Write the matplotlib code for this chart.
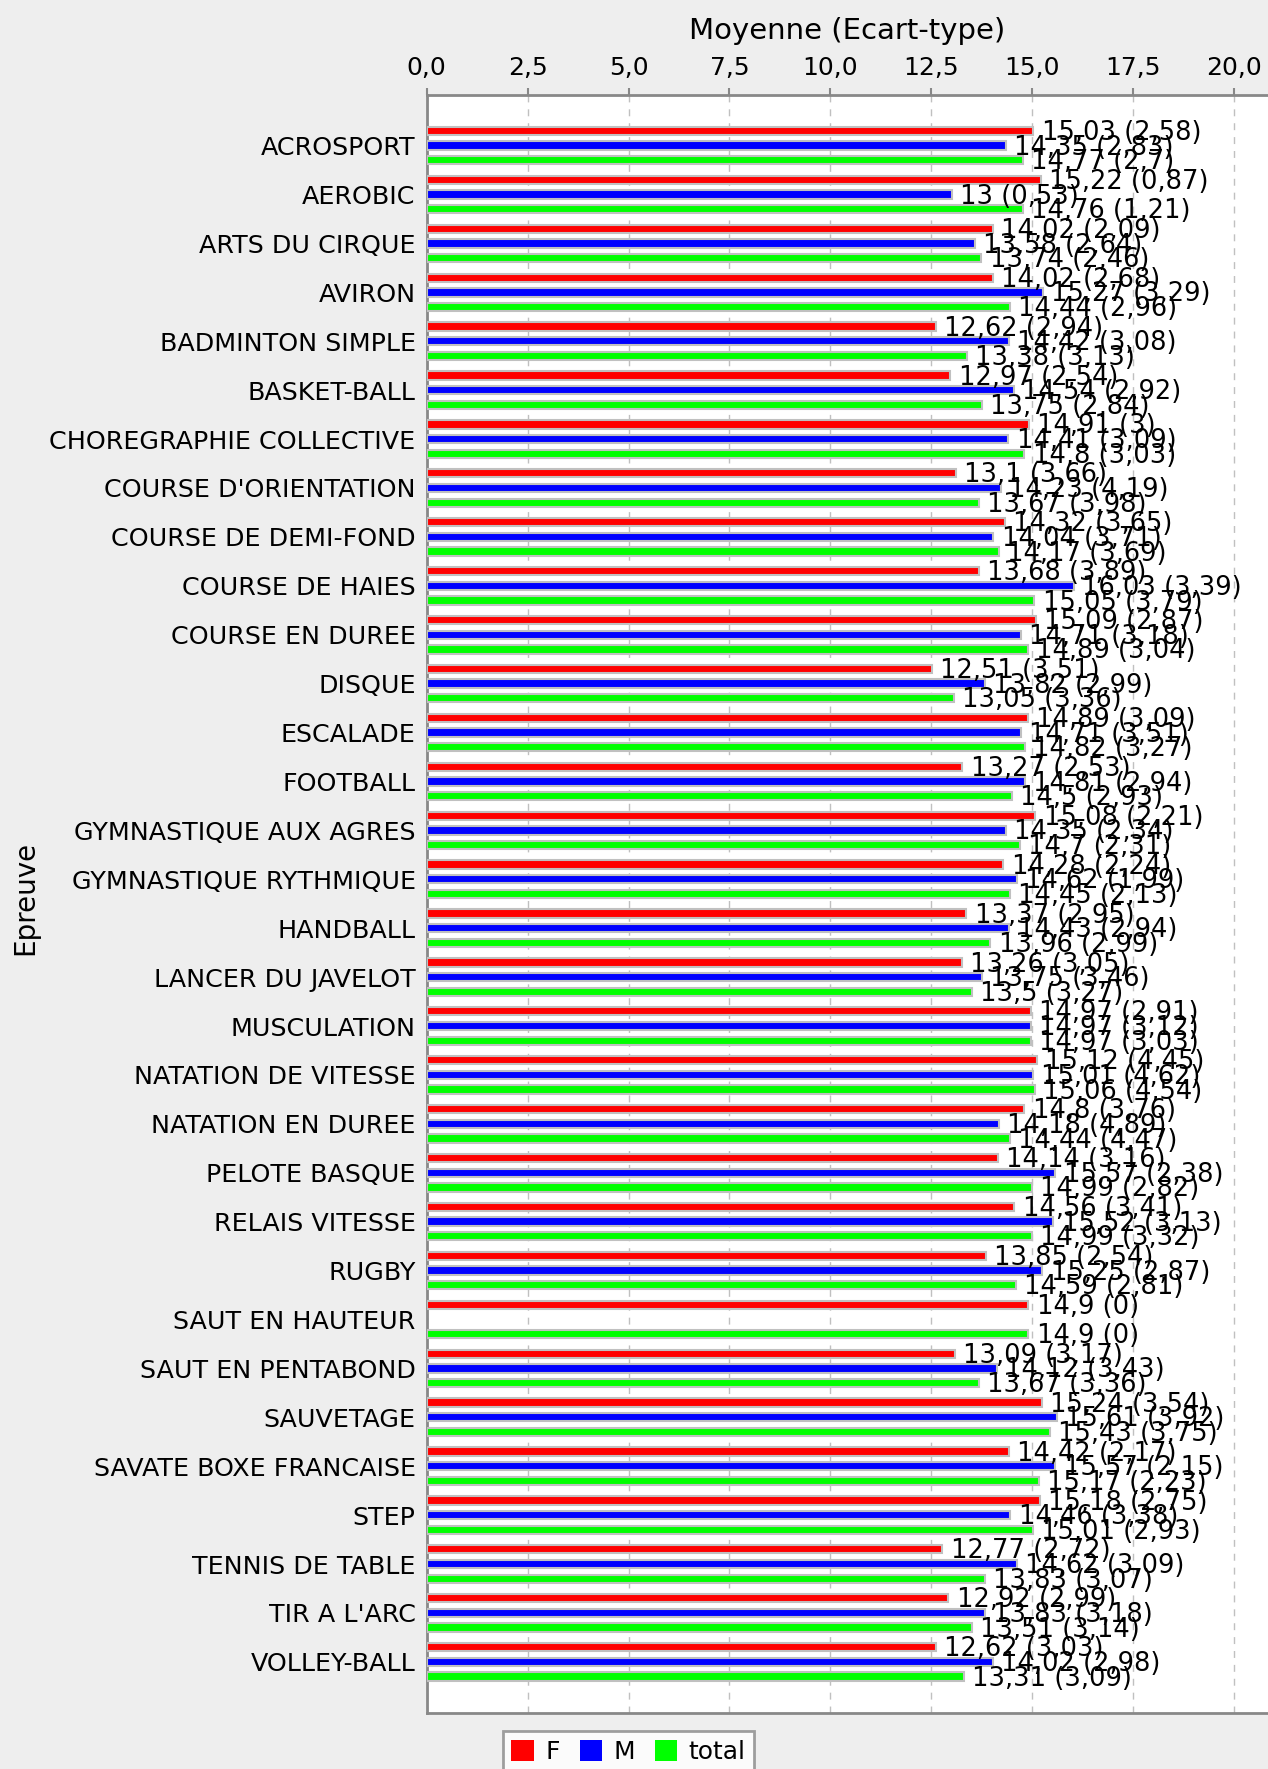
import numpy as np
import matplotlib
matplotlib.use("Agg")
import matplotlib.pyplot as plt
from matplotlib.patches import Patch
from matplotlib.ticker import FuncFormatter

epreuves = ["ACROSPORT", "AEROBIC", "ARTS DU CIRQUE", "AVIRON", "BADMINTON SIMPLE",
            "BASKET-BALL", "CHOREGRAPHIE COLLECTIVE", "COURSE D'ORIENTATION",
            "COURSE DE DEMI-FOND", "COURSE DE HAIES", "COURSE EN DUREE", "DISQUE",
            "ESCALADE", "FOOTBALL", "GYMNASTIQUE AUX AGRES", "GYMNASTIQUE RYTHMIQUE",
            "HANDBALL", "LANCER DU JAVELOT", "MUSCULATION", "NATATION DE VITESSE",
            "NATATION EN DUREE", "PELOTE BASQUE", "RELAIS VITESSE", "RUGBY",
            "SAUT EN HAUTEUR", "SAUT EN PENTABOND", "SAUVETAGE", "SAVATE BOXE FRANCAISE",
            "STEP", "TENNIS DE TABLE", "TIR A L'ARC", "VOLLEY-BALL"]

moy_f = [15.03, 15.22, 14.02, 14.02, 12.62, 12.97, 14.91, 13.1, 14.32, 13.68, 15.09,
         12.51, 14.89, 13.27, 15.08, 14.28, 13.37, 13.26, 14.97, 15.12, 14.8, 14.14,
         14.56, 13.85, 14.9, 13.09, 15.24, 14.42, 15.18, 12.77, 12.92, 12.62]
et_f = [2.58, 0.87, 2.09, 2.68, 2.94, 2.54, 3, 3.66, 3.65, 3.89, 2.87, 3.51, 3.09, 2.53,
        2.21, 2.24, 2.95, 3.05, 2.91, 4.45, 3.76, 3.16, 3.41, 2.54, 0, 3.17, 3.54, 2.17,
        2.75, 2.72, 2.99, 3.03]

moy_m = [14.35, 13, 13.58, 15.27, 14.42, 14.54, 14.41, 14.23, 14.04, 16.03, 14.71, 13.82,
         14.71, 14.81, 14.35, 14.62, 14.43, 13.75, 14.97, 15.01, 14.18, 15.57, 15.52,
         15.25, None, 14.12, 15.61, 15.57, 14.46, 14.62, 13.83, 14.02]
et_m = [2.83, 0.53, 2.64, 3.29, 3.08, 2.92, 3.09, 4.19, 3.71, 3.39, 3.18, 2.99, 3.51, 2.94,
        2.34, 1.99, 2.94, 3.46, 3.12, 4.62, 4.89, 2.38, 3.13, 2.87, None, 3.43, 3.92, 2.15,
        3.38, 3.09, 3.18, 2.98]

moy_t = [14.77, 14.76, 13.74, 14.44, 13.38, 13.75, 14.8, 13.67, 14.17, 15.05, 14.89,
         13.05, 14.82, 14.5, 14.7, 14.45, 13.96, 13.5, 14.97, 15.06, 14.44, 14.99, 14.99,
         14.59, 14.9, 13.67, 15.43, 15.17, 15.01, 13.83, 13.51, 13.31]
et_t = [2.7, 1.21, 2.46, 2.96, 3.13, 2.84, 3.03, 3.98, 3.69, 3.79, 3.04, 3.36, 3.27, 2.93,
        2.31, 2.13, 2.99, 3.27, 3.03, 4.54, 4.47, 2.82, 3.32, 2.81, 0, 3.36, 3.75, 2.23,
        2.93, 3.07, 3.14, 3.09]

series = [("F", moy_f, et_f, "#ff0000", -0.3),
          ("M", moy_m, et_m, "#0000ff", 0.0),
          ("total", moy_t, et_t, "#00ff00", 0.3)]


def fr(v):
    return ("%g" % v).replace(".", ",")


def fr_tick(v):
    return ("%.1f" % v).replace(".", ",")


plt.rcParams['font.family'] = 'DejaVu Sans'
fig = plt.figure(figsize=(12.68, 17.69), dpi=100, facecolor="#eeeeee")
W, H = 1268.0, 1769.0
ax = fig.add_axes([426.7 / W, 56.3 / H, (W - 426.7) / W, (1712.7 - 95) / H])
ax.set_facecolor("white")

y = np.arange(len(epreuves))
for nom, moy, et, col, off in series:
    for i in range(len(epreuves)):
        if moy[i] is None:
            continue
        ax.barh(y[i] + off, moy[i], height=0.17, color=col,
                edgecolor="#c0c0c0", linewidth=1.5, zorder=3)
        ax.annotate("%s (%s)" % (fr(moy[i]), fr(et[i])), (moy[i], y[i] + off),
                    xytext=(6, -1.5), textcoords="offset points",
                    ha="left", va="center", fontsize=18.5, zorder=4)

ax.set_xlim(0, 20.84)
ax.set_ylim(32.04, -1.035)
ax.set_xticks(np.arange(0, 20.01, 2.5))
ax.xaxis.set_major_formatter(FuncFormatter(lambda v, p: fr_tick(v)))
ax.xaxis.tick_top()
ax.xaxis.set_label_position("top")
ax.set_xlabel("Moyenne (Ecart-type)", fontsize=21, labelpad=12)
ax.tick_params(axis="x", labelsize=18, length=5, width=1.5, color="#888888", pad=6)
ax.set_yticks(y)
ax.set_yticklabels(epreuves, fontsize=18.3)
ax.tick_params(axis="y", length=0, pad=8)
ax.grid(axis="x", color="#c0c0c0", linestyle=(0, (5, 5)), linewidth=1, zorder=0)

for s in ["top", "left", "bottom"]:
    ax.spines[s].set_color("#888888")
    ax.spines[s].set_linewidth(2)
ax.spines["right"].set_visible(False)

fig.text(25 / W, 1 - 898 / H, "Epreuve", rotation=90, ha="center", va="center", fontsize=20)

handles = [Patch(facecolor=c, edgecolor="none", label=n) for n, _, _, c, _ in series]
leg = fig.legend(handles=handles, loc="upper center", bbox_to_anchor=(628.5 / W, 1 - 1731 / H),
                 ncol=3, fontsize=18, frameon=True, fancybox=False, handlelength=0.9,
                 handleheight=0.9, handletextpad=0.45, columnspacing=0.8, borderpad=0.35,
                 borderaxespad=0)
leg.get_frame().set_edgecolor("#888888")
leg.get_frame().set_linewidth(2)
leg.get_frame().set_facecolor("white")

fig.savefig("out.png", dpi=100, facecolor=fig.get_facecolor())
